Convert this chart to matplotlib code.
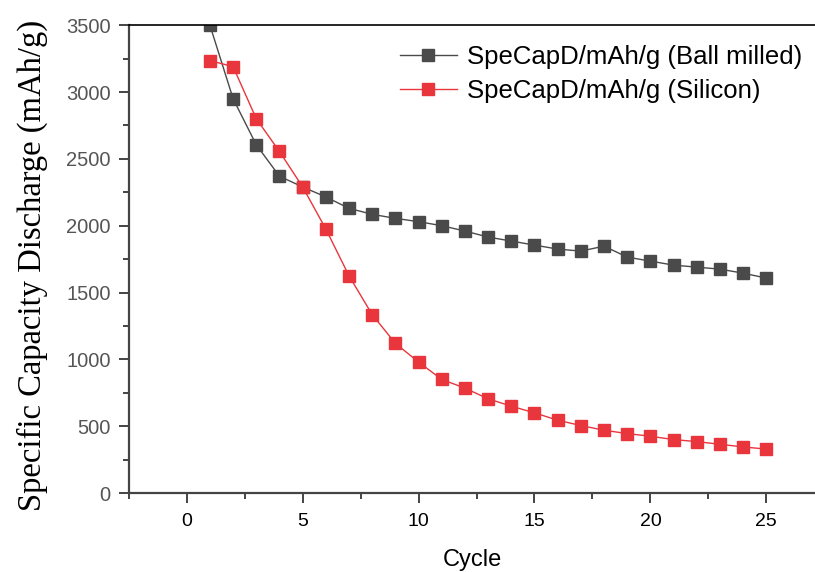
import matplotlib.pyplot as plt
import numpy as np

cycles = list(range(1, 26))
ball_milled = [3500, 2950, 2605, 2370, 2290, 2215, 2130, 2085, 2055, 2030,
               2000, 1960, 1915, 1885, 1855, 1825, 1810, 1847, 1765, 1735,
               1705, 1690, 1675, 1645, 1608]
silicon = [3235, 3190, 2800, 2555, 2290, 1975, 1625, 1335, 1120, 980,
           850, 785, 705, 650, 600, 545, 505, 470, 445, 425,
           400, 385, 365, 345, 329]

fig = plt.figure(figsize=(8.15, 5.72), dpi=100)
ax = fig.add_axes([0.158, 0.138, 0.842, 0.818])

ax.plot(cycles, ball_milled, color='#4a4a4a', lw=1.0, marker='s', ms=8.5,
        label='SpeCapD/mAh/g (Ball milled)')
ax.plot(cycles, silicon, color='#e8363c', lw=1.0, marker='s', ms=8.5,
        label='SpeCapD/mAh/g (Silicon)')

ax.set_xlim(-2.5, 27.1)
ax.set_ylim(0, 3500)
ax.set_xticks(np.arange(0, 26, 5))
ax.set_xticks(np.arange(-2.5, 27, 2.5), minor=True)
ax.set_yticks(np.arange(0, 3501, 500))
ax.set_yticks(np.arange(0, 3501, 250), minor=True)

for s in ['left', 'bottom']:
    ax.spines[s].set_color('#444444')
    ax.spines[s].set_linewidth(1.6)
ax.spines['top'].set_color('black')
ax.spines['top'].set_linewidth(1.2)
ax.spines['right'].set_visible(False)

ax.tick_params(which='both', direction='out', color='#444444', width=1.4)
ax.tick_params(which='major', length=7)
ax.tick_params(which='minor', length=4)
ax.tick_params(axis='x', labelsize=14, labelcolor='black', pad=7)
ax.tick_params(axis='y', labelsize=14.5, labelcolor='#555555', pad=6)
for lab in ax.get_xticklabels() + ax.get_yticklabels():
    lab.set_family('Liberation Sans')

ax.set_xlabel('Cycle', fontsize=17, family='Liberation Sans', labelpad=14)
ax.set_ylabel('Specific Capacity Discharge (mAh/g)', fontsize=23.5,
              family='Liberation Serif')
ax.yaxis.set_label_coords(-0.118, 0.487)

leg = ax.legend(loc='upper right', bbox_to_anchor=(1.0, 0.985), frameon=False,
                borderaxespad=0.1,
                prop={'family': 'Liberation Sans', 'size': 18.5},
                handlelength=2.2, handletextpad=0.4, labelspacing=0.38)

fig.savefig('out.png', dpi=100)
